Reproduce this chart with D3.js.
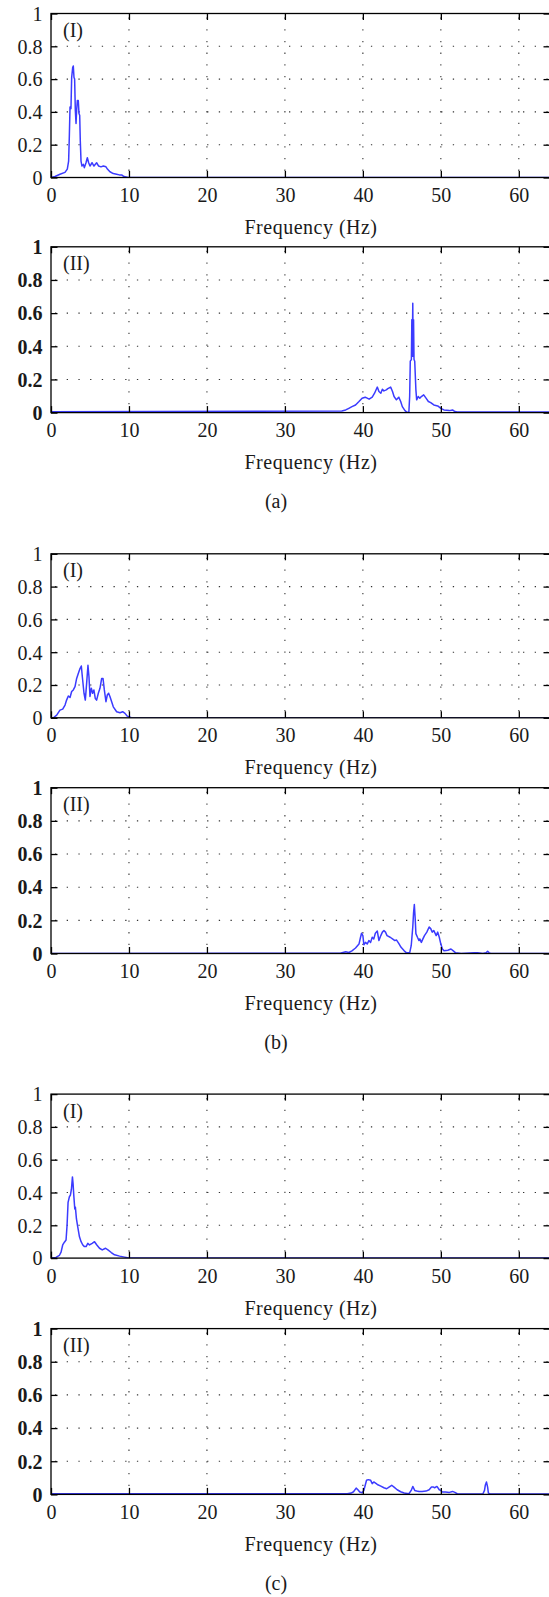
<!DOCTYPE html>
<html><head><meta charset="utf-8">
<script src="https://cdn.jsdelivr.net/npm/d3@7"></script>
<style>
body{margin:0;background:#fff}
svg{display:block}
svg text{font-family:"Liberation Serif","Times New Roman",serif}
</style>
</head><body>
<svg id="chart" width="549" height="1597"></svg>
<script>
// ---------- data ----------
const xTicks = [0, 10, 20, 30, 40, 50, 60];
const yTicks = [0, 0.2, 0.4, 0.6, 0.8, 1];
const xDomain = [0, 64];
const groupLabels = ["(a)", "(b)", "(c)"];
const panelLabels = ["(I)", "(II)"];
const xTitle = "Frequency (Hz)";

const aIFreq = [0,0.51,1.15,1.79,2.09,2.26,2.35,2.44,2.56,2.65,2.78,2.86,2.95,3.03,3.12,3.21,3.29,3.38,3.5,3.59,3.68,3.76,3.85,3.97,4.15,4.27,4.49,4.66,4.83,5.0,5.26,5.51,5.85,6.11,6.41,6.71,7.05,7.26,7.56,7.99,8.42,8.76,9.06,9.36,9.91,64];
const aIMag  = [0,0.006,0.02,0.031,0.051,0.1,0.25,0.43,0.42,0.61,0.67,0.68,0.61,0.6,0.41,0.33,0.41,0.47,0.47,0.39,0.38,0.22,0.1,0.07,0.08,0.06,0.09,0.12,0.09,0.07,0.09,0.07,0.09,0.07,0.065,0.07,0.065,0.05,0.035,0.024,0.02,0.016,0.016,0.006,0,0];

const aIIFreq = [0,37.3,37.8,38.2,38.6,39.06,39.5,39.9,40.3,40.8,41.2,41.5,41.85,42.06,42.3,42.5,42.7,43.0,43.2,43.56,43.8,44.0,44.3,44.6,44.85,45.06,45.4,45.7,45.9,46.0,46.08,46.22,46.28,46.33,46.4,46.45,46.5,46.56,46.65,46.8,46.9,47.1,47.3,47.5,47.8,48.1,48.4,48.7,49.1,49.6,50.0,50.4,51.1,51.5,51.8,52.1,64];
const aIIMag  = [0.005,0.01,0.016,0.026,0.036,0.046,0.067,0.087,0.093,0.081,0.093,0.117,0.154,0.127,0.117,0.141,0.131,0.137,0.145,0.154,0.127,0.097,0.077,0.093,0.067,0.036,0.012,0,0.004,0.097,0.31,0.32,0.56,0.34,0.66,0.34,0.56,0.32,0.31,0.137,0.077,0.097,0.087,0.097,0.107,0.087,0.067,0.06,0.046,0.04,0.026,0.016,0.012,0.016,0.006,0.004,0.004];

const bIFreq = [0,0.3,0.73,1.15,1.5,1.8,2.0,2.22,2.44,2.65,2.86,3.08,3.29,3.5,3.72,3.89,4.02,4.23,4.4,4.57,4.74,4.87,5.0,5.17,5.34,5.5,5.68,5.85,6.07,6.28,6.5,6.67,6.84,7.05,7.22,7.39,7.56,7.78,7.99,8.42,8.85,9.19,9.49,9.79,10.3,64];
const bIMag  = [0,0,0.016,0.047,0.053,0.078,0.108,0.133,0.124,0.16,0.17,0.19,0.24,0.27,0.3,0.316,0.25,0.15,0.108,0.21,0.32,0.25,0.13,0.18,0.15,0.17,0.118,0.108,0.15,0.18,0.24,0.24,0.17,0.098,0.139,0.15,0.13,0.098,0.067,0.037,0.031,0.037,0.027,0.01,0,0];

const bIIFreq = [0,37.1,37.8,38.2,38.6,39.06,39.5,39.7,39.83,40.0,40.13,40.34,40.56,40.77,40.99,41.2,41.4,41.6,41.85,42.06,42.3,42.5,42.7,42.9,43.1,43.5,43.8,44.1,44.3,44.6,44.9,45.3,45.6,46.0,46.2,46.4,46.5,46.6,46.7,46.8,47.0,47.2,47.3,47.5,47.7,47.9,48.2,48.5,48.7,48.9,49.1,49.4,49.6,49.8,50.0,50.2,50.4,50.9,51.3,51.6,51.9,52.6,54.3,54.7,55.4,55.8,56.0,56.2,56.4,64];
const bIIMag  = [0,0.002,0.01,0.006,0.016,0.033,0.057,0.098,0.122,0.108,0.053,0.067,0.057,0.078,0.067,0.098,0.088,0.122,0.135,0.078,0.108,0.129,0.139,0.129,0.108,0.098,0.088,0.078,0.082,0.061,0.037,0.016,0.004,0.004,0.047,0.16,0.245,0.295,0.22,0.12,0.098,0.078,0.088,0.067,0.088,0.108,0.129,0.16,0.15,0.129,0.139,0.108,0.129,0.098,0.057,0.027,0.016,0.02,0.027,0.016,0.004,0,0.004,0.004,0,0.004,0.014,0.004,0,0];

const cIFreq = [0,0.64,1.07,1.29,1.5,1.72,1.93,2.06,2.19,2.36,2.49,2.62,2.75,2.83,2.92,3.05,3.13,3.26,3.43,3.65,3.86,4.08,4.29,4.5,4.72,4.94,5.28,5.58,5.88,6.22,6.57,7.0,7.3,7.73,8.15,8.8,9.44,10.0,64];
const cIMag  = [0,0.004,0.016,0.036,0.08,0.097,0.11,0.2,0.34,0.374,0.384,0.42,0.495,0.455,0.384,0.3,0.31,0.24,0.19,0.13,0.1,0.08,0.07,0.07,0.09,0.08,0.09,0.1,0.08,0.06,0.05,0.06,0.05,0.034,0.02,0.012,0.006,0,0];

const cIIFreq = [0,38,38.5,38.8,39.14,39.36,39.6,39.9,40.13,40.3,40.47,40.7,41.0,41.2,41.4,41.85,42.3,42.7,43.05,43.35,43.7,44.0,44.4,44.85,45.3,45.9,46.2,46.4,46.65,46.9,47.2,47.6,48.1,48.5,48.8,49.06,49.2,49.5,49.8,50.0,50.2,50.6,51.1,51.5,51.8,52.1,53.0,55.4,55.6,55.7,55.85,56.0,56.1,56.4,64];
const cIIMag  = [0.004,0.004,0.008,0.016,0.038,0.028,0.014,0.01,0.024,0.055,0.085,0.089,0.085,0.065,0.075,0.06,0.05,0.04,0.034,0.044,0.055,0.044,0.028,0.016,0.008,0.004,0.024,0.048,0.024,0.02,0.018,0.018,0.02,0.028,0.044,0.044,0.04,0.048,0.028,0.024,0.014,0.014,0.012,0.018,0.012,0.004,0.002,0.004,0.024,0.055,0.075,0.044,0.008,0.002,0.002];

const series = [
  [[aIFreq, aIMag], [aIIFreq, aIIMag]],
  [[bIFreq, bIMag], [bIIFreq, bIIMag]],
  [[cIFreq, cIMag], [cIIFreq, cIIMag]]
];

// ---------- layout ----------
const FONT = '"Liberation Serif","Times New Roman",serif';
const FS = 20;
const TXT = "#1a1a1a";
const svg = d3.select("#chart");
svg.append("rect").attr("width", 549).attr("height", 1597).attr("fill", "#fff");

const x = d3.scaleLinear().domain(xDomain).range([51, 550]);
const lineColor = "#3b3bff";
const gridColor = "#333";

function panelBox(g, s) {
  return s === 0 ? { top: 13.5 + g * 540.3, h: 164 } : { top: 246.8 + g * 540.9, h: 165.8 };
}
function styleText(sel) {
  return sel.style("font-family", FONT).style("font-size", FS + "px").attr("fill", TXT);
}

series.forEach((grp, gi) => {
  let lastBottom = 0;
  grp.forEach(([fr, mg], si) => {
    const box = panelBox(gi, si);
    const bottom = box.top + box.h;
    lastBottom = bottom;
    const y = d3.scaleLinear().domain([0, 1]).range([bottom, box.top]);
    const g = svg.append("g");
    const clipId = `clip${gi}${si}`;
    g.append("clipPath").attr("id", clipId).append("rect")
      .attr("x", x(xDomain[0])).attr("y", y(1))
      .attr("width", x(xDomain[1]) - x(xDomain[0])).attr("height", y(0) - y(1));

    // dotted grid
    g.append("g").selectAll("line").data(yTicks.filter(v => v > 0 && v < 1)).join("line")
      .attr("x1", x(xDomain[0])).attr("x2", x(xDomain[1]))
      .attr("y1", d => y(d)).attr("y2", d => y(d))
      .attr("stroke", gridColor).attr("stroke-width", 1.1)
      .attr("stroke-dasharray", "1.3 10.4").attr("stroke-dashoffset", -4);
    g.append("g").selectAll("line").data(xTicks.filter(v => v > 0)).join("line")
      .attr("x1", d => x(d)).attr("x2", d => x(d))
      .attr("y1", y(1)).attr("y2", y(0))
      .attr("stroke", gridColor).attr("stroke-width", 1.1)
      .attr("stroke-dasharray", "1.3 10.4").attr("stroke-dashoffset", -4);

    // curve
    const pts = d3.zip(fr, mg);
    g.append("path").datum(pts)
      .attr("clip-path", `url(#${clipId})`)
      .attr("fill", "none").attr("stroke", lineColor).attr("stroke-width", 1.5)
      .attr("stroke-linejoin", "round")
      .attr("d", d3.line().x(d => x(d[0])).y(d => y(d[1])));

    // axes (ticks inward on all four sides)
    const tidy = a => {
      a.select(".domain").remove();
      a.selectAll(".tick line").attr("stroke", "#000").attr("stroke-width", 1.3);
      a.selectAll("text").call(styleText);
    };
    g.append("g").attr("transform", `translate(0,${bottom})`)
      .call(d3.axisBottom(x).tickValues(xTicks).tickSize(-6.5).tickPadding(0).tickFormat(d => String(d)))
      .call(tidy)
      .call(a => a.selectAll("text").attr("y", 24.5).attr("dy", null));
    g.append("g").attr("transform", `translate(0,${box.top})`)
      .call(d3.axisTop(x).tickValues(xTicks).tickSize(-6.5).tickFormat(""))
      .call(tidy);
    g.append("g").attr("transform", `translate(${x(xDomain[0])},0)`)
      .call(d3.axisLeft(y).tickValues(yTicks).tickSize(-6.5).tickPadding(8.5).tickFormat(d => String(d)))
      .call(tidy)
      .call(a => a.selectAll("text").attr("dy", "0.34em").style("font-weight", si === 1 ? "bold" : null));
    g.append("g").attr("transform", `translate(${x(xDomain[1])},0)`)
      .call(d3.axisRight(y).tickValues(yTicks).tickSize(-6.5).tickFormat(""))
      .call(tidy);

    // frame
    g.append("rect")
      .attr("x", x(xDomain[0])).attr("y", y(1))
      .attr("width", x(xDomain[1]) - x(xDomain[0])).attr("height", y(0) - y(1))
      .attr("fill", "none").attr("stroke", "#000").attr("stroke-width", 1.3);

    // panel label and x title
    g.append("text").attr("x", 63).attr("y", box.top + 23.5)
      .call(styleText).text(panelLabels[si]);
    g.append("text").attr("x", 311).attr("y", bottom + 56.5)
      .attr("text-anchor", "middle").style("letter-spacing", "0.5px")
      .call(styleText).text(xTitle);
  });
  svg.append("text").attr("x", 276).attr("y", lastBottom + 95.5)
    .attr("text-anchor", "middle").call(styleText).text(groupLabels[gi]);
});
</script>
</body></html>
